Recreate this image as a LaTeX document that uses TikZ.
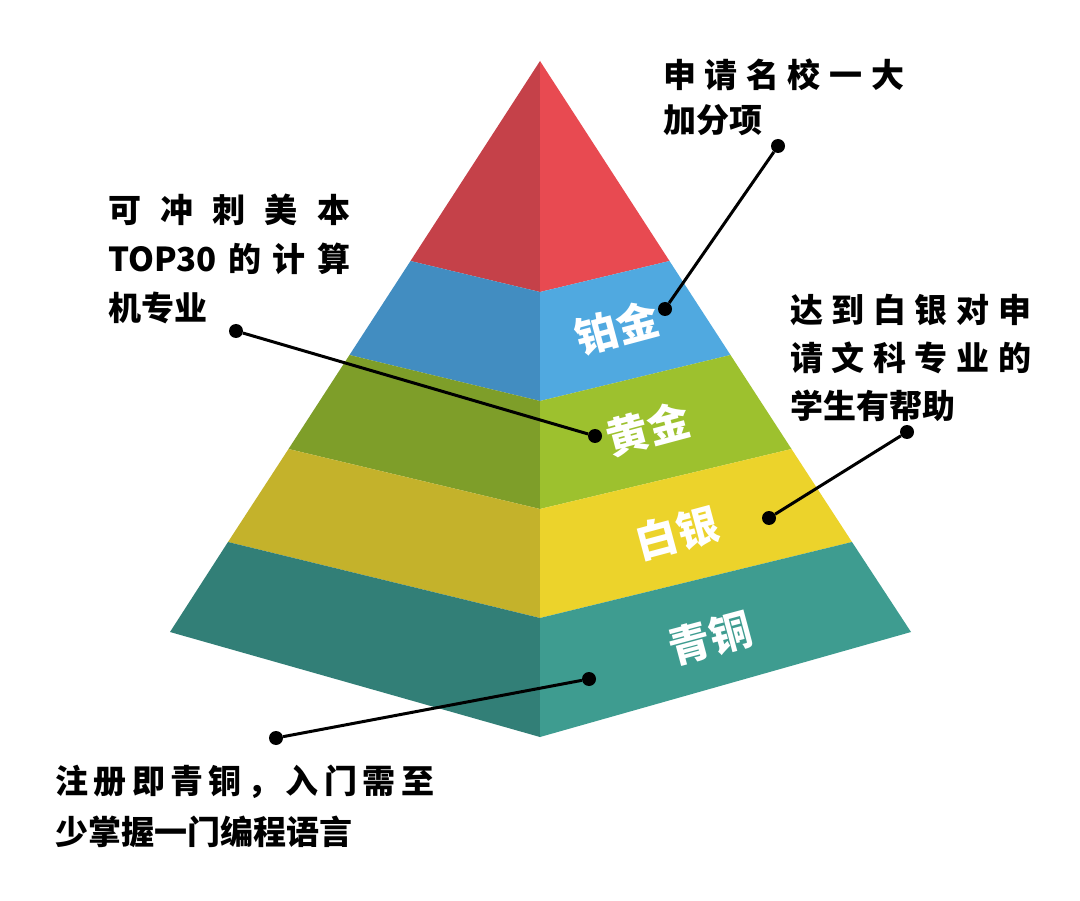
\documentclass[tikz,border=0pt]{standalone}
\usepackage{fontspec}
\newfontfamily\cjk{Noto Sans CJK SC}
\definecolor{redL}{HTML}{C54149}
\definecolor{redR}{HTML}{E84A51}
\definecolor{blueL}{HTML}{428DC1}
\definecolor{blueR}{HTML}{50A9E0}
\definecolor{greenL}{HTML}{7E9E29}
\definecolor{greenR}{HTML}{9DC12E}
\definecolor{yellowL}{HTML}{C4B22B}
\definecolor{yellowR}{HTML}{ECD32B}
\definecolor{tealL}{HTML}{327F77}
\definecolor{tealR}{HTML}{3E9C90}
\newcommand\hf{\hfill{}}
\begin{document}
\begin{tikzpicture}[x=1pt,y=-1pt,
  dot/.style={circle,fill=black,inner sep=0pt,minimum size=14pt},
  conn/.style={line width=3pt,black},
  desc/.style={font=\cjk\bfseries\fontsize{33}{48}\selectfont,anchor=base west,inner sep=0pt,align=left},
  lvl/.style={font=\cjk\bfseries\fontsize{42}{42}\selectfont,text=white,rotate=15,inner sep=0pt}]
\useasboundingbox[fill=white] (0,0) rectangle (1080,901);
% top (red)
\fill[redL] (540,61) -- (410.5,261) -- (540,292) -- cycle;
\fill[redR] (540,61) -- (669.5,261) -- (540,292) -- cycle;
% blue
\fill[blueL] (410.5,261) -- (349.5,355) -- (540,401) -- (540,292) -- cycle;
\fill[blueR] (669.5,261) -- (730.5,355) -- (540,401) -- (540,292) -- cycle;
% green
\fill[greenL] (349.5,355) -- (288.5,449) -- (540,509) -- (540,401) -- cycle;
\fill[greenR] (730.5,355) -- (791.5,449) -- (540,509) -- (540,401) -- cycle;
% yellow
\fill[yellowL] (288.5,449) -- (228,542) -- (540,618) -- (540,509) -- cycle;
\fill[yellowR] (791.5,449) -- (852,542) -- (540,618) -- (540,509) -- cycle;
% teal
\fill[tealL] (228,542) -- (170,632) -- (540,737) -- (540,618) -- cycle;
\fill[tealR] (852,542) -- (911,632) -- (540,737) -- (540,618) -- cycle;

% level labels
\node[lvl] (plat) at (617,328) {铂金};
\node[lvl] (gold) at (648,429) {黄金};
\node[lvl] (silv) at (677,533) {白银};
\node[lvl] (bron) at (710,638) {青铜};

% descriptions (anchor = baseline of last line)
\node[desc] (tplat) at (663,133) {\makebox[241pt][s]{申\hf 请\hf 名\hf 校\hf 一\hf 大}\\[-3pt]加分项};
\node[desc] (tgold) at (108,320.5) {\makebox[242pt][s]{可\hf 冲\hf 刺\hf 美\hf 本}\\[1pt]\makebox[242pt][s]{TOP30\hf 的\hf 计\hf 算}\\[1pt]机专业};
\node[desc] (tsilv) at (790,418.5) {\makebox[241pt][s]{达\hf 到\hf 白\hf 银\hf 对\hf 申}\\\makebox[241pt][s]{请\hf 文\hf 科\hf 专\hf 业\hf 的}\\学生有帮助};
\node[desc] (tbron) at (55,844) {\makebox[379pt][s]{注\hf 册\hf 即\hf 青\hf 铜\hf ，\hf 入\hf 门\hf 需\hf 至}\\[3pt]少掌握一门编程语言};

% dots
\node[dot] (p1) at (778,146) {};
\node[dot] (p2) at (665,309) {};
\node[dot] (g1) at (236,331) {};
\node[dot] (g2) at (595,436) {};
\node[dot] (s1) at (907,432) {};
\node[dot] (s2) at (769,518) {};
\node[dot] (b1) at (589,679) {};
\node[dot] (b2) at (276,738) {};

% connectors
\draw[conn] (p1) -- (p2);
\draw[conn] (g1) -- (g2);
\draw[conn] (s1) -- (s2);
\draw[conn] (b1) -- (b2);
\end{tikzpicture}
\end{document}
